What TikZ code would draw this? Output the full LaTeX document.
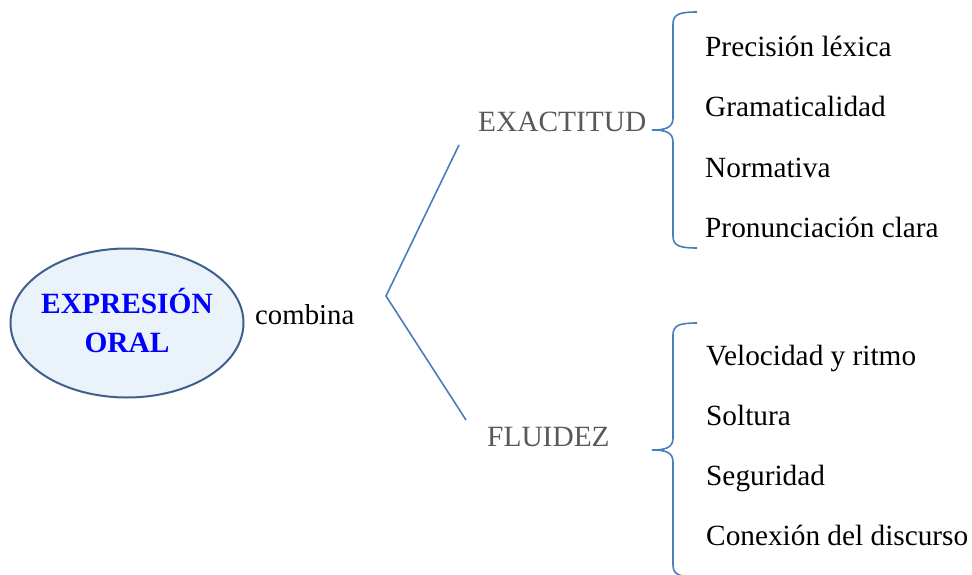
\documentclass[tikz,border=0pt]{standalone}
\usepackage{fontspec}
\setmainfont{Liberation Serif}
\usetikzlibrary{shapes.geometric}
\definecolor{linec}{HTML}{4A7EBB}
\definecolor{ellfill}{HTML}{EAF2FA}
\definecolor{elldraw}{HTML}{3F5F8F}
\definecolor{graytxt}{HTML}{595959}
\tikzset{
  item/.style={anchor=base west, inner sep=0pt, font=\fontsize{29.3}{34}\selectfont},
  cat/.style={anchor=base west, inner sep=0pt, text=graytxt, font=\fontsize{29.4}{34}\selectfont},
  title/.style={anchor=base, inner sep=0pt, text=blue, font=\fontsize{29.4}{34}\selectfont\bfseries},
  conn/.style={draw=linec, line width=1.6pt},
}
\begin{document}
\begin{tikzpicture}[x=1pt,y=-1pt]
\useasboundingbox (0,0) rectangle (972,575);
% ellipse
\node[ellipse, draw=elldraw, line width=2pt, fill=ellfill, minimum width=233, minimum height=149, inner sep=0pt] (ell) at (127,323) {};
\node[title] (t1) at (127,313) {EXPRESIÓN};
\node[title] (t2) at (127,352) {ORAL};
\node[anchor=base west, inner sep=0pt, font=\fontsize{28.8}{34}\selectfont] (comb) at (255,324) {combina};
% angle connector
\coordinate (ctop) at (459,145);
\coordinate (cmid) at (386,296);
\coordinate (cbot) at (466,420);
\draw[conn] (ctop) -- (cmid) -- (cbot);
% categories
\node[cat] (exa) at (478,132) {EXACTITUD};
\node[cat] (flu) at (487,446) {FLUIDEZ};
% upper brace
\coordinate (b1t) at (697,12);
\coordinate (b1tip) at (652,130);
\coordinate (b1b) at (697,248);
\draw[conn] (b1t) .. controls (680,12) and (673,14) .. (673,24) -- (673,118)
  .. controls (673,128) and (665,130) .. (b1tip)
  .. controls (665,130) and (673,132) .. (673,142) -- (673,236)
  .. controls (673,246) and (680,248) .. (b1b);
% lower brace
\coordinate (b2t) at (697,323);
\coordinate (b2tip) at (652,450);
\coordinate (b2b) at (697,577);
\draw[conn] (b2t) .. controls (680,323) and (673,325) .. (673,335) -- (673,438)
  .. controls (673,448) and (665,450) .. (b2tip)
  .. controls (665,450) and (673,452) .. (673,462) -- (673,565)
  .. controls (673,575) and (680,577) .. (b2b);
% items
\node[item] (i1) at (705,57) {Precisión léxica};
\node[item] (i2) at (705,117) {Gramaticalidad};
\node[item] (i3) at (705,177) {Normativa};
\node[item] (i4) at (705,237) {Pronunciación clara};
\node[item] (j1) at (706,365) {Velocidad y ritmo};
\node[item] (j2) at (706,425) {Soltura};
\node[item] (j3) at (706,485) {Seguridad};
\node[item] (j4) at (706,545) {Conexión del discurso};
\end{tikzpicture}
\end{document}
